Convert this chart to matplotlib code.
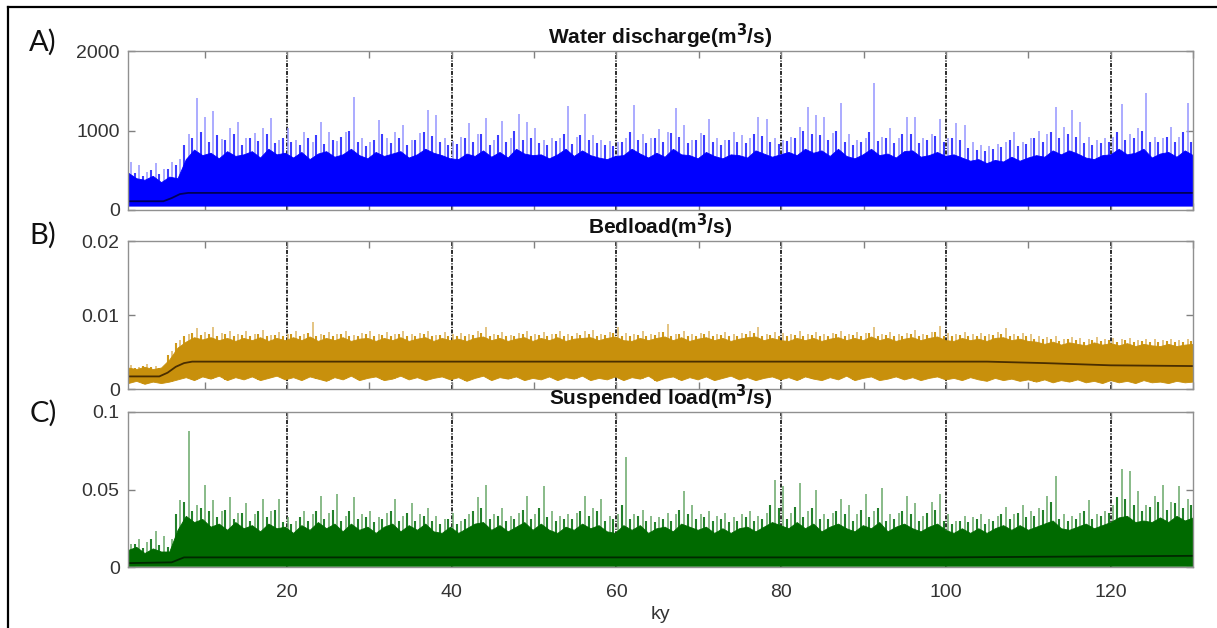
import numpy as np
import matplotlib
matplotlib.use("Agg")
import matplotlib.pyplot as plt
from matplotlib.lines import Line2D

# ---------------------------------------------------------------
# Simulated river outputs over 130 ky, summarised per kiloyear.
#   *_peak   : highest sample in each 1-ky bin
#   *_second : second highest isolated sample in the bin
#   *_fringe : upper edge of the dense cloud of samples
#   *_low    : lower edge of the record
#   *_mean   : running mean (knots)
# ---------------------------------------------------------------

# Water discharge (m3/s)
q_peak = [600, 560, 480, 590, 520, 600, 640, 950, 1405, 1174,
          1249, 893, 1028, 1111, 900, 965, 1028, 1153, 880, 1028,
          880, 985, 850, 1103, 985, 870, 985, 1425, 900, 860,
          1132, 900, 985, 1069, 880, 965, 1258, 1195, 900, 870,
          920, 1090, 950, 1153, 880, 1119, 900, 1203, 1111, 1035,
          880, 909, 900, 1308, 920, 1203, 940, 880, 870, 860,
          900, 1321, 950, 900, 1019, 985, 1287, 1069, 880, 965,
          1145, 900, 880, 980, 940, 900, 1174, 1145, 900, 880,
          920, 1048, 1300, 1195, 1174, 965, 1342, 950, 880, 900,
          1601, 920, 1035, 900, 1174, 1174, 900, 950, 1145, 900,
          1090, 1069, 850, 820, 800, 830, 850, 980, 860, 900,
          1000, 950, 1291, 1048, 1258, 1103, 914, 880, 900, 920,
          1329, 950, 1028, 1468, 920, 900, 1048, 920, 1342, 900]
q_second = [520, 470, 430, 500, 450, 520, 560,
            820, 900, 980, 860, 940, 880, 960, 820, 900, 870, 950, 840, 910,
            860, 820, 900, 940, 830, 880, 920, 990, 850, 800,
            880, 960, 840, 900, 820, 880, 980, 930, 850, 820,
            830, 900, 860, 950, 820, 940, 860, 990, 880, 900,
            840, 820, 870, 960, 830, 940, 880, 840, 820, 810,
            860, 980, 880, 840, 900, 860, 970, 920, 840, 880,
            940, 860, 820, 880, 860, 840, 960, 930, 850, 830,
            870, 900, 990, 950, 940, 880, 1000, 860, 820, 850,
            980, 870, 900, 840, 960, 950, 840, 880, 930, 860,
            900, 880, 780, 760, 740, 770, 790, 880, 800, 830,
            900, 860, 980, 900, 960, 920, 840, 820, 840, 860,
            980, 880, 900, 1000, 860, 850, 920, 860, 980, 860]
q_fringe = [470, 400, 380, 430, 350, 420, 400,
            640, 760, 690, 720, 650, 740, 680, 700, 740, 660, 770, 700, 720,
            660, 730, 640, 710, 740, 670, 700, 770, 690, 650,
            730, 680, 710, 740, 660, 700, 770, 720, 690, 650,
            640, 710, 680, 750, 670, 730, 660, 770, 710, 690,
            700, 650, 700, 770, 680, 750, 690, 660, 640, 680,
            690, 770, 710, 660, 720, 670, 770, 700, 690, 650,
            730, 680, 650, 700, 690, 660, 750, 710, 670, 700,
            730, 690, 770, 720, 750, 680, 770, 680, 650, 700,
            770, 690, 710, 660, 740, 750, 670, 690, 730, 680,
            700, 660, 620, 640, 590, 630, 610, 670, 620, 660,
            690, 670, 750, 700, 750, 710, 660, 640, 690, 700,
            770, 700, 720, 770, 660, 710, 730, 670, 750, 690]
q_low_ky = [0.7, 130.0]
q_low = [55, 55]
q_mean_ky = [0.7, 5.0, 6.0, 7.0, 8.0, 130.0]
q_mean = [110, 110, 150, 200, 215, 215]

# Bedload (m3/s)
b_peak = [0.0033, 0.0030, 0.0034, 0.0031, 0.0030, 0.0052, 0.0066, 0.0075, 0.0082, 0.0077,
          0.0084, 0.0076, 0.0079, 0.0074, 0.0078, 0.0075, 0.0080, 0.0073, 0.0077, 0.0074,
          0.0078, 0.0075, 0.0090, 0.0074, 0.0077, 0.0075, 0.0079, 0.0073, 0.0076, 0.0078,
          0.0074, 0.0077, 0.0075, 0.0079, 0.0074, 0.0076, 0.0078, 0.0073, 0.0077, 0.0075,
          0.0076, 0.0074, 0.0078, 0.0084, 0.0075, 0.0077, 0.0073, 0.0076, 0.0078, 0.0074,
          0.0077, 0.0075, 0.0079, 0.0074, 0.0076, 0.0078, 0.0080, 0.0075, 0.0077, 0.0084,
          0.0076, 0.0074, 0.0078, 0.0075, 0.0077, 0.0088, 0.0075, 0.0078, 0.0074, 0.0076,
          0.0078, 0.0075, 0.0077, 0.0074, 0.0076, 0.0078, 0.0084, 0.0075, 0.0077, 0.0076,
          0.0074, 0.0078, 0.0075, 0.0077, 0.0074, 0.0076, 0.0078, 0.0075, 0.0077, 0.0076,
          0.0084, 0.0075, 0.0077, 0.0074, 0.0076, 0.0080, 0.0075, 0.0077, 0.0085, 0.0076,
          0.0074, 0.0077, 0.0075, 0.0076, 0.0074, 0.0077, 0.0082, 0.0075, 0.0076, 0.0074,
          0.0072, 0.0070, 0.0071, 0.0068, 0.0070, 0.0069, 0.0067, 0.0070, 0.0068, 0.0069,
          0.0067, 0.0069, 0.0066, 0.0068, 0.0067, 0.0066, 0.0068, 0.0066, 0.0067, 0.0068]
b_second = [0.0031, 0.0029, 0.0031, 0.0030, 0.0029, 0.0046, 0.0062, 0.0071, 0.0076, 0.0073,
            0.0075, 0.0072, 0.0074, 0.0071, 0.0073, 0.0072, 0.0075, 0.0071, 0.0073, 0.0072,
            0.0074, 0.0072, 0.0076, 0.0071, 0.0073, 0.0072, 0.0074, 0.0071, 0.0072, 0.0074,
            0.0071, 0.0073, 0.0072, 0.0074, 0.0071, 0.0072, 0.0074, 0.0071, 0.0073, 0.0072,
            0.0072, 0.0071, 0.0073, 0.0076, 0.0072, 0.0073, 0.0071, 0.0072, 0.0074, 0.0071,
            0.0073, 0.0072, 0.0074, 0.0071, 0.0072, 0.0073, 0.0075, 0.0072, 0.0073, 0.0076,
            0.0072, 0.0071, 0.0073, 0.0072, 0.0073, 0.0077, 0.0072, 0.0074, 0.0071, 0.0072,
            0.0074, 0.0072, 0.0073, 0.0071, 0.0072, 0.0074, 0.0076, 0.0072, 0.0073, 0.0072,
            0.0071, 0.0073, 0.0072, 0.0073, 0.0071, 0.0072, 0.0074, 0.0072, 0.0073, 0.0072,
            0.0076, 0.0072, 0.0073, 0.0071, 0.0072, 0.0075, 0.0072, 0.0073, 0.0077, 0.0072,
            0.0071, 0.0073, 0.0072, 0.0072, 0.0071, 0.0073, 0.0075, 0.0072, 0.0072, 0.0071,
            0.0068, 0.0067, 0.0068, 0.0065, 0.0067, 0.0066, 0.0064, 0.0066, 0.0065, 0.0066,
            0.0064, 0.0066, 0.0063, 0.0065, 0.0064, 0.0063, 0.0065, 0.0063, 0.0064, 0.0065]
b_fringe = [0.0029, 0.0027, 0.0030, 0.0027, 0.0029, 0.0040, 0.0056, 0.0064, 0.0070, 0.0067,
            0.0070, 0.0066, 0.0069, 0.0065, 0.0069, 0.0066, 0.0070, 0.0065, 0.0069, 0.0066,
            0.0070, 0.0066, 0.0071, 0.0065, 0.0069, 0.0066, 0.0070, 0.0065, 0.0068, 0.0069,
            0.0065, 0.0069, 0.0066, 0.0070, 0.0065, 0.0068, 0.0070, 0.0065, 0.0069, 0.0066,
            0.0068, 0.0065, 0.0069, 0.0071, 0.0066, 0.0069, 0.0065, 0.0068, 0.0070, 0.0065,
            0.0069, 0.0066, 0.0070, 0.0065, 0.0068, 0.0069, 0.0070, 0.0066, 0.0069, 0.0071,
            0.0066, 0.0065, 0.0069, 0.0066, 0.0069, 0.0071, 0.0066, 0.0070, 0.0065, 0.0068,
            0.0070, 0.0066, 0.0069, 0.0065, 0.0068, 0.0070, 0.0071, 0.0066, 0.0069, 0.0066,
            0.0065, 0.0069, 0.0066, 0.0069, 0.0065, 0.0068, 0.0070, 0.0066, 0.0069, 0.0066,
            0.0071, 0.0066, 0.0069, 0.0065, 0.0068, 0.0070, 0.0066, 0.0069, 0.0071, 0.0066,
            0.0065, 0.0069, 0.0066, 0.0068, 0.0065, 0.0069, 0.0070, 0.0066, 0.0068, 0.0065,
            0.0064, 0.0061, 0.0064, 0.0060, 0.0063, 0.0061, 0.0059, 0.0063, 0.0060, 0.0062,
            0.0059, 0.0062, 0.0058, 0.0061, 0.0059, 0.0058, 0.0061, 0.0058, 0.0060, 0.0061]
b_low = [0.0008, 0.0011, 0.0007, 0.0010, 0.0008, 0.0010, 0.0013, 0.0016, 0.0012, 0.0017,
         0.0014, 0.0018, 0.0012, 0.0016, 0.0013, 0.0017, 0.0012, 0.0015, 0.0018, 0.0013,
         0.0016, 0.0012, 0.0017, 0.0014, 0.0011, 0.0016, 0.0013, 0.0018, 0.0012, 0.0015,
         0.0017, 0.0012, 0.0014, 0.0018, 0.0013, 0.0016, 0.0012, 0.0015, 0.0017, 0.0013,
         0.0016, 0.0011, 0.0015, 0.0018, 0.0012, 0.0016, 0.0014, 0.0017, 0.0012, 0.0015,
         0.0013, 0.0017, 0.0012, 0.0016, 0.0014, 0.0018, 0.0012, 0.0015, 0.0013, 0.0017,
         0.0012, 0.0016, 0.0014, 0.0018, 0.0011, 0.0015, 0.0017, 0.0012, 0.0016, 0.0013,
         0.0017, 0.0012, 0.0015, 0.0018, 0.0013, 0.0016, 0.0012, 0.0015, 0.0017, 0.0013,
         0.0016, 0.0012, 0.0017, 0.0014, 0.0012, 0.0016, 0.0013, 0.0018, 0.0012, 0.0015,
         0.0017, 0.0012, 0.0014, 0.0017, 0.0013, 0.0016, 0.0012, 0.0015, 0.0017, 0.0013,
         0.0015, 0.0012, 0.0016, 0.0013, 0.0011, 0.0015, 0.0012, 0.0014, 0.0011, 0.0013,
         0.0010, 0.0013, 0.0009, 0.0012, 0.0010, 0.0013, 0.0009, 0.0011, 0.0008, 0.0012,
         0.0009, 0.0011, 0.0008, 0.0012, 0.0009, 0.0010, 0.0008, 0.0011, 0.0009, 0.0010]
b_mean_ky = [0.7, 4.5, 5.5, 6.5, 7.5, 8.5, 105.0, 112.0, 120.0, 130.0]
b_mean = [0.0017, 0.0017, 0.0022, 0.0030, 0.0035, 0.0037, 0.0037, 0.0035, 0.0032, 0.0031]

# Suspended load (m3/s)
s_peak = [0.015, 0.018, 0.016, 0.023, 0.020, 0.018, 0.043, 0.088, 0.040, 0.053,
          0.043, 0.036, 0.045, 0.035, 0.041, 0.034, 0.044, 0.036, 0.044, 0.032,
          0.030, 0.036, 0.034, 0.046, 0.035, 0.047, 0.033, 0.045, 0.034, 0.036,
          0.032, 0.035, 0.044, 0.033, 0.041, 0.034, 0.038, 0.033, 0.031, 0.035,
          0.030, 0.034, 0.045, 0.053, 0.034, 0.038, 0.033, 0.035, 0.046, 0.034,
          0.052, 0.036, 0.033, 0.034, 0.035, 0.046, 0.038, 0.044, 0.033, 0.034,
          0.071, 0.034, 0.037, 0.033, 0.032, 0.035, 0.034, 0.049, 0.040, 0.034,
          0.036, 0.033, 0.035, 0.032, 0.034, 0.036, 0.033, 0.035, 0.056, 0.052,
          0.035, 0.054, 0.036, 0.050, 0.034, 0.035, 0.044, 0.040, 0.034, 0.047,
          0.036, 0.051, 0.034, 0.035, 0.046, 0.041, 0.033, 0.042, 0.047, 0.034,
          0.030, 0.033, 0.032, 0.034, 0.031, 0.033, 0.039, 0.034, 0.040, 0.036,
          0.038, 0.046, 0.059, 0.034, 0.033, 0.035, 0.043, 0.034, 0.036, 0.040,
          0.063, 0.062, 0.049, 0.040, 0.046, 0.053, 0.042, 0.052, 0.044, 0.048]
s_second = [0.013, 0.015, 0.012, 0.018, 0.014, 0.013, 0.034, 0.042, 0.036, 0.038,
            0.036, 0.032, 0.037, 0.031, 0.035, 0.030, 0.036, 0.032, 0.037, 0.029,
            0.028, 0.032, 0.030, 0.036, 0.031, 0.037, 0.030, 0.036, 0.031, 0.032,
            0.029, 0.031, 0.036, 0.030, 0.035, 0.030, 0.033, 0.030, 0.028, 0.031,
            0.028, 0.031, 0.036, 0.038, 0.031, 0.033, 0.030, 0.031, 0.037, 0.031,
            0.038, 0.032, 0.030, 0.031, 0.031, 0.036, 0.033, 0.036, 0.030, 0.031,
            0.040, 0.031, 0.033, 0.030, 0.029, 0.031, 0.030, 0.037, 0.034, 0.031,
            0.032, 0.030, 0.031, 0.029, 0.030, 0.032, 0.030, 0.031, 0.040, 0.038,
            0.031, 0.039, 0.032, 0.038, 0.031, 0.031, 0.036, 0.034, 0.030, 0.037,
            0.032, 0.038, 0.030, 0.031, 0.036, 0.034, 0.030, 0.035, 0.037, 0.030,
            0.028, 0.030, 0.029, 0.031, 0.028, 0.030, 0.034, 0.031, 0.035, 0.032,
            0.033, 0.037, 0.042, 0.031, 0.030, 0.031, 0.036, 0.031, 0.033, 0.035,
            0.045, 0.044, 0.040, 0.036, 0.039, 0.042, 0.037, 0.041, 0.038, 0.040]
s_fringe = [0.011, 0.013, 0.009, 0.012, 0.010, 0.010, 0.024, 0.033, 0.029, 0.031,
            0.026, 0.028, 0.024, 0.029, 0.025, 0.027, 0.023, 0.028, 0.025, 0.026,
            0.022, 0.027, 0.024, 0.029, 0.025, 0.028, 0.023, 0.028, 0.024, 0.026,
            0.022, 0.026, 0.028, 0.023, 0.027, 0.024, 0.028, 0.023, 0.022, 0.026,
            0.022, 0.025, 0.028, 0.029, 0.024, 0.027, 0.023, 0.026, 0.029, 0.024,
            0.028, 0.024, 0.022, 0.026, 0.024, 0.028, 0.025, 0.027, 0.023, 0.022,
            0.027, 0.024, 0.027, 0.022, 0.025, 0.026, 0.023, 0.028, 0.026, 0.024,
            0.026, 0.022, 0.025, 0.022, 0.025, 0.026, 0.023, 0.026, 0.029, 0.027,
            0.025, 0.029, 0.025, 0.028, 0.023, 0.026, 0.028, 0.025, 0.023, 0.027,
            0.025, 0.029, 0.023, 0.026, 0.028, 0.025, 0.023, 0.026, 0.028, 0.024,
            0.022, 0.025, 0.022, 0.025, 0.022, 0.025, 0.027, 0.024, 0.027, 0.024,
            0.026, 0.028, 0.030, 0.025, 0.024, 0.026, 0.028, 0.025, 0.027, 0.029,
            0.032, 0.033, 0.029, 0.030, 0.029, 0.032, 0.029, 0.033, 0.030, 0.032]
s_low_ky = [0.7, 130.0]
s_low = [0.0008, 0.0008]
s_mean_ky = [0.7, 6.0, 7.5, 100.0, 130.0]
s_mean = [0.0025, 0.0030, 0.0062, 0.0062, 0.0072]

titles = ["Water discharge(m$^{\\mathbf{3}}$/s)", "Bedload(m$^{\\mathbf{3}}$/s)",
          "Suspended load(m$^{\\mathbf{3}}$/s)"]
panel_tags = ["A)", "B)", "C)"]
y_limits = [(0, 2000), (0, 0.02), (0, 0.1)]
y_ticks = [[0, 1000, 2000], [0, 0.01, 0.02], [0, 0.05, 0.1]]
y_ticklabels = [["0", "1000", "2000"], ["0", "0.01", "0.02"], ["0", "0.05", "0.1"]]
x_labels = [20, 40, 60, 80, 100, 120]

# ---------------------------------------------------------------
W, H = 1217, 628
plt.rcParams["font.family"] = ["Liberation Sans", "DejaVu Sans"]
fig = plt.figure(figsize=(W / 100, H / 100), dpi=100)
fig.patch.set_facecolor("white")

colors = ["#0000ff", "#c8900c", "#006a00"]
second_colors = ["#3c3cff", "#cf9818", "#22802a"]
spike_colors = ["#9494ff", "#dcb460", "#68a868"]
mean_colors = ["#00005a", "#4a2e00", "#002800"]

boxes = [(51, 210), (241, 389), (412, 567)]
left_px, right_px = 128, 1193

# sample positions of the 130 per-kiloyear values across the plotted range
ky_grid = np.linspace(0.7, 130.0, 130)
bin_w = ky_grid[1] - ky_grid[0]

low_series = [
    np.interp(ky_grid, q_low_ky, q_low),
    np.asarray(b_low),
    np.interp(ky_grid, s_low_ky, s_low),
]
series = [
    (q_peak, q_second, q_fringe, q_mean_ky, q_mean),
    (b_peak, b_second, b_fringe, b_mean_ky, b_mean),
    (s_peak, s_second, s_fringe, s_mean_ky, s_mean),
]

for i, (top, bot) in enumerate(boxes):
    ax = fig.add_axes([left_px / W, 1 - bot / H, (right_px - left_px) / W, (bot - top) / H])
    peak, second, fringe, mean_ky, mean = series[i]
    low_grid = low_series[i]

    # dash-dot markers every 20 ky (behind the record)
    for xv in x_labels:
        ax.axvline(xv, color="#1a1a1a", lw=1.3, ls=(0, (2.2, 0.8, 0.6, 0.8)), zorder=1)

    # isolated high samples
    ax.vlines(ky_grid + 0.35 * bin_w, low_grid, peak, color=spike_colors[i], lw=1.1, zorder=2)
    ax.vlines(ky_grid - 0.2 * bin_w, low_grid, second, color=second_colors[i], lw=1.5, zorder=2.2)
    # dense body of the record
    ax.fill_between(ky_grid, low_grid, fringe, color=colors[i], lw=0.6,
                    edgecolor=colors[i], zorder=3)
    # running mean
    ax.plot(mean_ky, mean, color=mean_colors[i], lw=1.3, zorder=4)

    ax.set_xlim(0.7, 130)
    ax.set_ylim(*y_limits[i])
    ax.set_yticks(y_ticks[i])
    ax.set_yticklabels(y_ticklabels[i])
    if i < 2:
        ax.set_xticks(np.arange(10, 131, 10))
        ax.set_xticklabels([])
    else:
        ax.set_xticks(x_labels)
        ax.set_xticklabels([str(v) for v in x_labels])
        ax.set_xlabel("ky", fontsize=14, color="#333333", labelpad=4)
    ax.tick_params(direction="in", length=5, width=1, colors="#808080",
                   labelcolor="#333333", labelsize=14, top=True, right=True, pad=6)
    ax.tick_params(axis="x", pad=12)
    for sp in ax.spines.values():
        sp.set_color("#909090")
        sp.set_linewidth(1.0)
        sp.set_zorder(5)
    ax.set_title(titles[i], fontsize=15, fontweight="bold", pad=5, color="#111111")

    tag_y = [42, 235, 413][i]
    fig.text(43 / W, 1 - tag_y / H, panel_tags[i], fontsize=21, ha="center", va="center",
             family=["Lato", "DejaVu Sans"], color="#111111")

# outer frame (top and left edges)
fig.add_artist(Line2D([8 / W, 1.0], [1 - 7 / H, 1 - 7 / H], color="black", lw=1.6))
fig.add_artist(Line2D([8 / W, 8 / W], [0.0, 1 - 7 / H], color="black", lw=1.6))

fig.savefig("out.png", dpi=100, facecolor="white")
